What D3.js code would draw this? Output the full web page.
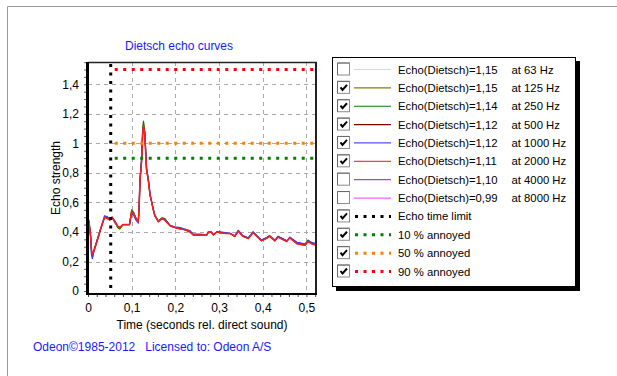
<!DOCTYPE html>
<html>
<head>
<meta charset="utf-8">
<script src="https://cdn.jsdelivr.net/npm/d3@7"></script>
<style>
  body { margin: 0; background: #fff; }
  svg { display: block; font-family: "Liberation Sans", Arial, sans-serif; }
</style>
</head>
<body>
<div id="chart"></div>
<script>
// time axis (seconds rel. direct sound)
const times = [0, 0.003, 0.006, 0.008, 0.010, 0.013, 0.020, 0.030, 0.038, 0.045,
  0.050, 0.055, 0.062, 0.068, 0.073, 0.080, 0.090, 0.095, 0.100, 0.105,
  0.110, 0.115, 0.117, 0.119, 0.123, 0.125, 0.127, 0.130, 0.134, 0.138,
  0.142, 0.146, 0.149, 0.153, 0.161, 0.169, 0.176, 0.188, 0.199, 0.211,
  0.222, 0.233, 0.241, 0.256, 0.272, 0.275, 0.282, 0.287, 0.295, 0.302,
  0.315, 0.325, 0.336, 0.344, 0.355, 0.367, 0.378, 0.397, 0.408, 0.416,
  0.428, 0.435, 0.445, 0.455, 0.462, 0.478, 0.497, 0.504, 0.512, 0.523];

const echo125 = [0.50, 0.46, 0.37, 0.27, 0.24, 0.27, 0.34, 0.43, 0.50, 0.50,
  0.49, 0.50, 0.47, 0.43, 0.42, 0.45, 0.45, 0.45, 0.55, 0.53,
  0.49, 0.47, 0.56, 0.75, 0.90, 1.07, 1.15, 1.07, 0.83, 0.76,
  0.65, 0.60, 0.56, 0.515, 0.475, 0.495, 0.49, 0.445, 0.43, 0.425,
  0.415, 0.405, 0.38, 0.38, 0.38, 0.40, 0.40, 0.38, 0.40, 0.40,
  0.39, 0.39, 0.37, 0.41, 0.37, 0.36, 0.40, 0.345, 0.36, 0.375,
  0.34, 0.37, 0.355, 0.34, 0.36, 0.33, 0.315, 0.345, 0.325, 0.315];
const echo250 = [0.50, 0.46, 0.37, 0.26, 0.23, 0.27, 0.34, 0.43, 0.50, 0.50,
  0.49, 0.50, 0.47, 0.43, 0.42, 0.45, 0.45, 0.45, 0.55, 0.53,
  0.49, 0.47, 0.56, 0.75, 0.91, 1.08, 1.15, 1.07, 0.83, 0.76,
  0.65, 0.60, 0.56, 0.515, 0.475, 0.495, 0.49, 0.445, 0.43, 0.425,
  0.415, 0.405, 0.38, 0.38, 0.38, 0.40, 0.40, 0.38, 0.40, 0.40,
  0.39, 0.39, 0.37, 0.41, 0.37, 0.36, 0.40, 0.345, 0.36, 0.375,
  0.34, 0.37, 0.355, 0.34, 0.36, 0.33, 0.315, 0.345, 0.325, 0.315];
const echo500 = [0.49, 0.45, 0.37, 0.27, 0.24, 0.27, 0.33, 0.43, 0.50, 0.49,
  0.48, 0.50, 0.47, 0.44, 0.43, 0.45, 0.45, 0.45, 0.54, 0.52,
  0.49, 0.47, 0.56, 0.74, 0.89, 1.05, 1.12, 1.06, 0.82, 0.75,
  0.65, 0.60, 0.555, 0.51, 0.47, 0.49, 0.48, 0.44, 0.43, 0.42,
  0.415, 0.40, 0.38, 0.38, 0.38, 0.395, 0.40, 0.38, 0.40, 0.395,
  0.39, 0.39, 0.37, 0.405, 0.37, 0.355, 0.395, 0.34, 0.355, 0.37,
  0.34, 0.365, 0.35, 0.335, 0.36, 0.32, 0.31, 0.335, 0.32, 0.31];
const echo1000 = [0.50, 0.45, 0.36, 0.25, 0.22, 0.26, 0.33, 0.43, 0.51, 0.50,
  0.49, 0.50, 0.46, 0.44, 0.43, 0.45, 0.45, 0.45, 0.53, 0.51,
  0.48, 0.46, 0.57, 0.76, 0.90, 1.07, 1.10, 1.08, 0.83, 0.76,
  0.66, 0.60, 0.56, 0.51, 0.47, 0.49, 0.485, 0.445, 0.435, 0.43,
  0.42, 0.41, 0.385, 0.385, 0.38, 0.40, 0.40, 0.385, 0.40, 0.40,
  0.395, 0.39, 0.375, 0.41, 0.375, 0.36, 0.40, 0.345, 0.36, 0.375,
  0.345, 0.37, 0.355, 0.34, 0.365, 0.33, 0.32, 0.34, 0.33, 0.32];
const echo2000 = [0.49, 0.44, 0.38, 0.28, 0.25, 0.27, 0.33, 0.43, 0.50, 0.49,
  0.48, 0.50, 0.47, 0.44, 0.43, 0.45, 0.45, 0.45, 0.54, 0.52,
  0.49, 0.47, 0.56, 0.74, 0.89, 1.05, 1.12, 1.06, 0.82, 0.75,
  0.65, 0.60, 0.555, 0.51, 0.47, 0.49, 0.48, 0.44, 0.43, 0.42,
  0.415, 0.40, 0.38, 0.38, 0.38, 0.395, 0.40, 0.38, 0.40, 0.395,
  0.39, 0.39, 0.37, 0.405, 0.37, 0.355, 0.395, 0.34, 0.355, 0.37,
  0.34, 0.365, 0.35, 0.335, 0.36, 0.32, 0.31, 0.335, 0.32, 0.31];

// drawn in this order, 2000 Hz ends up on top
const curves = [
  { values: echo125, color: '#808000', width: 1 },
  { values: echo250, color: '#008000', width: 1.2 },
  { values: echo500, color: '#800000', width: 1 },
  { values: echo1000, color: '#3c3cff', width: 1.3 },
  { values: echo2000, color: '#ff1c1c', width: 1.5 },
];

const echoTimeLimit = 0.052;
const limits = [0.9, 1.0, 1.5];
const limitColors = ['#008000', '#ff8000', '#ff0000'];

const xTicks = [0, 0.1, 0.2, 0.3, 0.4, 0.5];
const yTicks = [0, 0.2, 0.4, 0.6, 0.8, 1, 1.2, 1.4];

const legendNames = ['Echo(Dietsch)=1,15', 'Echo(Dietsch)=1,15', 'Echo(Dietsch)=1,14', 'Echo(Dietsch)=1,12',
  'Echo(Dietsch)=1,12', 'Echo(Dietsch)=1,11', 'Echo(Dietsch)=1,10', 'Echo(Dietsch)=0,99',
  'Echo time limit', '10 % annoyed', '50 % annoyed', '90 % annoyed'];
const legendFreqs = ['at 63 Hz', 'at 125 Hz', 'at 250 Hz', 'at 500 Hz', 'at 1000 Hz', 'at 2000 Hz',
  'at 4000 Hz', 'at 8000 Hz', '', '', '', ''];
const legendColors = ['#d4d4f2', '#808000', '#008000', '#800000', '#5050ff', '#ff4040', '#a050b8', '#ff60ff',
  '#000000', '#008000', '#ff8000', '#ff0000'];
const legendChecked = [false, true, true, true, true, true, false, false, true, true, true, true];
const legendDotted = [false, false, false, false, false, false, false, false, true, true, true, true];

const width = 617;
const height = 376;
const fmt = d => String(d).replace('.', ',');

const svg = d3.select('#chart').append('svg')
  .attr('width', width)
  .attr('height', height);

svg.append('rect').attr('width', width).attr('height', height).attr('fill', '#fff');

// outer panel edge
svg.append('path')
  .attr('d', `M7.5,${height}V6.5H${width}`)
  .attr('fill', 'none')
  .attr('stroke', '#9a9a9a');

const x = d3.scaleLinear().domain([0, 0.522]).range([88, 316]);
const y = d3.scaleLinear().domain([-0.02, 1.551]).range([294, 62]);

// grid
const grid = svg.append('g').attr('stroke', '#a8a8a8').attr('stroke-dasharray', '4,4');
grid.selectAll('line.v').data(xTicks.slice(1)).enter().append('line')
  .attr('x1', d => Math.round(x(d)) + 0.5).attr('x2', d => Math.round(x(d)) + 0.5)
  .attr('y1', y.range()[1]).attr('y2', y.range()[0]);
grid.selectAll('line.h').data(yTicks.slice(1)).enter().append('line')
  .attr('y1', d => Math.round(y(d)) + 0.5).attr('y2', d => Math.round(y(d)) + 0.5)
  .attr('x1', x.range()[0]).attr('x2', x.range()[1]);

// curves
svg.append('clipPath').attr('id', 'plot-clip')
  .append('rect').attr('x', 88).attr('y', 62).attr('width', 228).attr('height', 232);

const line = d3.line()
  .x((d, i) => x(times[i]))
  .y(d => y(d));

const plot = svg.append('g').attr('clip-path', 'url(#plot-clip)');
plot.selectAll('path.curve').data(curves).enter().append('path')
  .attr('class', 'curve')
  .attr('d', d => line(d.values))
  .attr('fill', 'none')
  .attr('stroke', d => d.color)
  .attr('stroke-width', d => d.width)
  .attr('stroke-linejoin', 'round');

// annoyance limits and echo time limit
plot.selectAll('line.limit').data(limits).enter().append('line')
  .attr('x1', x(echoTimeLimit) + 4).attr('x2', x.range()[1])
  .attr('y1', d => y(d)).attr('y2', d => y(d))
  .attr('stroke', (d, i) => limitColors[i])
  .attr('stroke-width', 3)
  .attr('stroke-dasharray', '3,5.5');

plot.append('line')
  .attr('x1', x(echoTimeLimit)).attr('x2', x(echoTimeLimit))
  .attr('y1', y.range()[1] + 2).attr('y2', y.range()[0])
  .attr('stroke', '#000')
  .attr('stroke-width', 3)
  .attr('stroke-dasharray', '3,5.5');

// axes
const xAxis = svg.append('g').attr('transform', 'translate(0,294)')
  .call(d3.axisBottom(x).tickValues(xTicks).tickSize(0).tickPadding(9).tickFormat(fmt));
xAxis.select('.domain').remove();
xAxis.selectAll('text').attr('font-size', 12).attr('fill', '#000').attr('font-family', null);

svg.append('g').attr('transform', 'translate(0,294)')
  .call(d3.axisBottom(x).tickValues(d3.range(0, 0.521, 0.02)).tickSize(3).tickFormat(''))
  .call(g => g.select('.domain').remove())
  .selectAll('line').attr('stroke', '#444');

const yAxis = svg.append('g').attr('transform', 'translate(88,0)')
  .call(d3.axisLeft(y).tickValues(yTicks).tickSize(0).tickPadding(9).tickFormat(fmt));
yAxis.select('.domain').remove();
yAxis.selectAll('text').attr('font-size', 12).attr('fill', '#000').attr('font-family', null);

svg.append('g').attr('transform', 'translate(86,0)')
  .call(d3.axisLeft(y).tickValues(d3.range(0, 1.551, 0.05)).tickSize(2).tickFormat(''))
  .call(g => g.select('.domain').remove())
  .selectAll('line').attr('stroke', '#666');

// plot frame
svg.append('line').attr('x1', 88).attr('x2', 317).attr('y1', 62.5).attr('y2', 62.5)
  .attr('stroke', '#222').attr('stroke-width', 1.5);
svg.append('line').attr('x1', 316).attr('x2', 316).attr('y1', 62).attr('y2', 295)
  .attr('stroke', '#222').attr('stroke-width', 2);
svg.append('line').attr('x1', 86).attr('x2', 317).attr('y1', 294).attr('y2', 294)
  .attr('stroke', '#000').attr('stroke-width', 2);
svg.append('line').attr('x1', 87.5).attr('x2', 87.5).attr('y1', 62).attr('y2', 295)
  .attr('stroke', '#000').attr('stroke-width', 3);

// titles
svg.append('text').attr('x', 125).attr('y', 50)
  .attr('font-size', 12).attr('fill', '#1a1aff')
  .text('Dietsch echo curves');

svg.append('text')
  .attr('transform', 'translate(60,178) rotate(-90)')
  .attr('text-anchor', 'middle')
  .attr('font-size', 12)
  .text('Echo strength');

svg.append('text').attr('x', 202).attr('y', 329)
  .attr('text-anchor', 'middle')
  .attr('font-size', 12)
  .text('Time (seconds rel. direct sound)');

svg.append('text').attr('x', 33).attr('y', 351)
  .attr('font-size', 12).attr('fill', '#1a1aff')
  .attr('xml:space', 'preserve')
  .text('Odeon\u00a91985-2012   Licensed to: Odeon A/S');

// legend
const legend = svg.append('g');
legend.append('rect').attr('x', 576).attr('y', 61).attr('width', 4).attr('height', 230).attr('fill', '#000');
legend.append('rect').attr('x', 336).attr('y', 287).attr('width', 244).attr('height', 4).attr('fill', '#000');
legend.append('rect').attr('x', 332.5).attr('y', 57.5).attr('width', 243).attr('height', 229)
  .attr('fill', '#fff').attr('stroke', '#000');

const rowY = d3.scaleLinear().domain([0, 11]).range([69.5, 271.5]);

const rows = legend.selectAll('g.row').data(legendNames).enter().append('g')
  .attr('class', 'row')
  .attr('transform', (d, i) => `translate(0,${rowY(i)})`);

rows.append('rect')
  .attr('x', 337.5).attr('y', -6.5).attr('width', 12).attr('height', 12)
  .attr('fill', '#fff').attr('stroke', '#8c8c8c');
rows.append('path')
  .attr('d', 'M337.5,5.5V-6.5H349.5')
  .attr('fill', 'none').attr('stroke', '#6a6a6a');

rows.filter((d, i) => legendChecked[i]).append('path')
  .attr('d', 'M340.5,-0.5l2,2.5l4.5,-5')
  .attr('fill', 'none').attr('stroke', '#000').attr('stroke-width', 2);

rows.append('line')
  .attr('x1', (d, i) => legendDotted[i] ? 355 : 354)
  .attr('x2', 391)
  .attr('y1', 0).attr('y2', 0)
  .attr('stroke', (d, i) => legendColors[i])
  .attr('stroke-width', (d, i) => legendDotted[i] ? 3 : 1.2)
  .attr('stroke-dasharray', (d, i) => legendDotted[i] ? '3,5.5' : null);

rows.append('text')
  .attr('x', 398).attr('y', 4)
  .attr('font-size', 11.3)
  .text(d => d);

rows.append('text')
  .attr('x', 511.5).attr('y', 4)
  .attr('font-size', 11.3)
  .text((d, i) => legendFreqs[i]);
</script>
</body>
</html>
